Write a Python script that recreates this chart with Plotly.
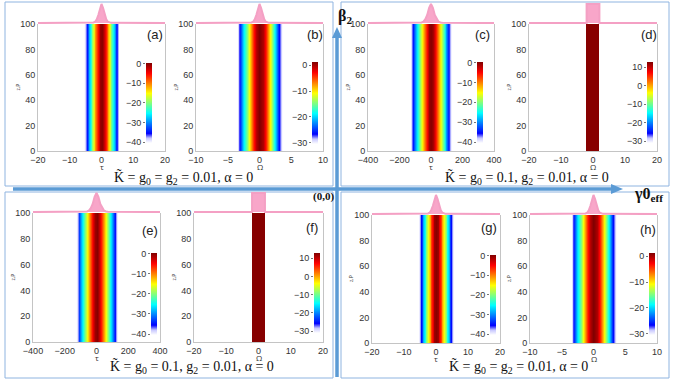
import plotly.graph_objects as go

W, H = 675, 380

# pulse intensity across the time window in dB, panels (a) and (g)
tau_short = [-7, -6, -5.5, -5, -4.5, -4, -3.5, -3, -2.5, -2, -1.5, -1, -0.5, 0,
             0.5, 1, 1.5, 2, 2.5, 3, 3.5, 4, 4.5, 5, 5.5, 6, 7]
db_time = [-55, -44.5, -41.7, -37.4, -33.1, -28.7, -24.4, -20.1, -15.9, -11.5, -7.6, -3.8, -0.9, 0,
           -0.9, -3.8, -7.6, -11.5, -15.9, -20.1, -24.4, -28.7, -33.1, -37.4, -41.7, -44.5, -55]
# same pulse on the wide window, panels (c) and (e)
tau_long = [-168, -144, -132, -120, -108, -96, -84, -72, -60, -48, -36, -24, -12, 0,
            12, 24, 36, 48, 60, 72, 84, 96, 108, 120, 132, 144, 168]
# spectrum in dB, panels (b) and (h)
omega_b = [-5, -4.5, -4, -3.5, -3, -2.5, -2, -1.5, -1, -0.5, 0, 0.5, 1, 1.5, 2, 2.5, 3, 3.5, 4, 4.5, 5]
db_spec = [-47, -41.5, -36.1, -30.7, -25.3, -19.8, -14.5, -9.2, -4.2, -0.3, 1.3,
           -0.3, -4.2, -9.2, -14.5, -19.8, -25.3, -30.7, -36.1, -41.5, -47]
# narrow spectral line, panels (d) and (f)
omega_d = [-4, 0, 4]
db_line = [None, 12.5, None]

# input pulse shown above each map (normalised)
prof_tau_short = [-20, -3, -2.5, -2, -1.5, -1, -0.5, 0, 0.5, 1, 1.5, 2, 2.5, 3, 20]
prof_time = [0, 0.01, 0.03, 0.07, 0.2, 0.42, 0.79, 1, 0.79, 0.42, 0.2, 0.07, 0.03, 0.01, 0]
prof_tau_long = [-400, -72, -60, -48, -36, -24, -12, 0, 12, 24, 36, 48, 60, 72, 400]
prof_omega_b = [-10, -1.5, -1.25, -1, -0.75, -0.5, -0.25, 0, 0.25, 0.5, 0.75, 1, 1.25, 1.5, 10]
prof_omega_d = [-20, -2, -2, 2, 2, 20]
prof_line = [0, 0, 1, 1, 0, 0]

z_ticks = [0, 20, 40, 60, 80, 100]
cb_ticks_40 = [0, -10, -20, -30, -40]
cb_ticks_30 = [0, -10, -20, -30]
cb_ticks_line = [10, 0, -10, -20, -30]

cap_same = "K\u0303 = g<sub>0</sub> = g<sub>2</sub> = 0.01, α = 0"
cap_diff = "K\u0303 = g<sub>0</sub> = 0.1, g<sub>2</sub> = 0.01, α = 0"

jet_white = [[0, 'rgb(255,255,255)'], [0.06, 'rgb(200,200,255)'], [0.12, 'rgb(0,0,255)'],
             [0.37, 'rgb(0,255,255)'], [0.62, 'rgb(255,255,0)'], [0.87, 'rgb(255,0,0)'],
             [1, 'rgb(128,0,0)']]

time_s = dict(xt='τ', xr=[-20, 20], tv=[-20, -10, 0, 10, 20], x=tau_short, z=db_time,
              px=prof_tau_short, py=prof_time, zr=(-40.5, 0.3), cbt=cb_ticks_40, sm='best')
time_l = dict(xt='τ', xr=[-400, 400], tv=[-400, -200, 0, 200, 400], x=tau_long, z=db_time,
              px=prof_tau_long, py=prof_time, zr=(-40.5, 0.3), cbt=cb_ticks_40, sm='best')
spec_b = dict(xt='Ω', xr=[-10, 10], tv=[-10, -5, 0, 5, 10], x=omega_b, z=db_spec,
              px=prof_omega_b, py=prof_time, zr=(-30.6, 1.3), cbt=cb_ticks_30, sm='best')
spec_d = dict(xt='Ω', xr=[-20, 20], tv=[-20, -10, 0, 10, 20], x=omega_d, z=db_line,
              px=prof_omega_d, py=prof_line, zr=(-31, 12.8), cbt=cb_ticks_line, sm=False)

panels = [
    dict(lab='(a)', box=(38, 24, 165, 151), cb=(146, 63, 143), lp=(155, 35), **time_s),
    dict(lab='(b)', box=(196, 24, 323, 151), cb=(312, 62, 144), lp=(315, 34), **spec_b),
    dict(lab='(c)', box=(368, 24, 494, 151), cb=(477, 62, 143), lp=(482, 34), **time_l),
    dict(lab='(d)', box=(529, 24, 657, 151), cb=(647, 62, 143), lp=(649, 35), **spec_d),
    dict(lab='(e)', box=(33, 213, 160, 342), cb=(151, 253, 335), lp=(150, 230), **time_l),
    dict(lab='(f)', box=(194, 213, 323, 342), cb=(314, 253, 333), lp=(312, 227), **spec_d),
    dict(lab='(g)', box=(372, 215, 500, 343), cb=(490, 255, 335), lp=(489, 227), **time_s),
    dict(lab='(h)', box=(530, 215, 657, 343), cb=(649, 253, 335), lp=(648, 229), **spec_b),
]


def X(px):
    return px / W


def Y(py):
    return 1 - py / H


def note(x, y, text, **kw):
    return dict(x=X(x), y=Y(y), xref='paper', yref='paper', text=text, showarrow=False,
                xanchor='center', yanchor='middle', **kw)


fig = go.Figure()
layout = {}
ann = []
tick_font = dict(family='Liberation Sans, Arial', size=9, color='#333')
line_col = '#c4c4c4'

for k, p in enumerate(panels):
    x0, y0, x1, y1 = p['box']
    nm, npf, ncb = 3 * k + 1, 3 * k + 2, 3 * k + 3
    s_m = '' if nm == 1 else str(nm)
    cbx, cby0, cby1 = p['cb']

    fig.add_trace(go.Heatmap(
        x=p['x'], y=[0, 100], z=[p['z'], p['z']], zmin=p['zr'][0], zmax=p['zr'][1],
        colorscale=jet_white, zsmooth=p['sm'], xaxis='x' + s_m, yaxis='y' + s_m,
        hoverinfo='skip',
        colorbar=dict(x=X(cbx), xanchor='left', xref='paper', y=Y(cby1), yanchor='bottom',
                      yref='paper', lenmode='pixels', len=cby1 - cby0, thickness=6,
                      xpad=0, ypad=0, outlinewidth=0, showticklabels=False, ticks='')))
    fig.add_trace(go.Scatter(
        x=p['px'], y=p['py'], mode='lines', fill='tozeroy', hoverinfo='skip',
        line=dict(color='#f4a0c4', width=2), fillcolor='#f8a6c9',
        xaxis='x%d' % npf, yaxis='y%d' % npf, showlegend=False))
    # empty trace so the colour-scale tick axis gets drawn
    fig.add_trace(go.Scatter(x=[], y=[], xaxis='x%d' % ncb, yaxis='y%d' % ncb,
                             showlegend=False, hoverinfo='skip'))

    layout['xaxis' + s_m] = dict(domain=[X(x0), X(x1)], range=p['xr'], tickvals=p['tv'],
                                 anchor='y' + s_m, showline=True, linecolor=line_col,
                                 linewidth=1, ticks='', showgrid=False, zeroline=False,
                                 tickfont=tick_font)
    layout['yaxis' + s_m] = dict(domain=[Y(y1), Y(y0)], range=[0, 100], tickvals=z_ticks,
                                 anchor='x' + s_m, showline=True, mirror=True,
                                 linecolor=line_col, linewidth=1, ticks='', showgrid=False,
                                 zeroline=False, tickfont=tick_font)
    layout['xaxis%d' % npf] = dict(domain=[X(x0), X(x1)], range=p['xr'], visible=False,
                                   anchor='y%d' % npf)
    layout['yaxis%d' % npf] = dict(domain=[Y(y0), Y(y0 - 21)], range=[-0.05, 1.05],
                                   visible=False, anchor='x%d' % npf)
    layout['xaxis%d' % ncb] = dict(domain=[X(cbx), X(cbx + 6)], range=[0, 1],
                                   showticklabels=False, showline=False, showgrid=False,
                                   zeroline=False, ticks='', anchor='y%d' % ncb)
    layout['yaxis%d' % ncb] = dict(domain=[Y(cby1), Y(cby0)], range=list(p['zr']),
                                   tickvals=p['cbt'], anchor='x%d' % ncb, ticks='outside',
                                   ticklen=2, tickcolor='#777', showline=False,
                                   showgrid=False, zeroline=False, tickfont=tick_font)

    ann.append(note((x0 + x1) / 2, y1 + 15.5, p['xt'], font=dict(size=8, color='#333')))
    ann.append(note(x0 - 21, (y0 + y1) / 2, 'z,P', textangle=-90,
                    font=dict(size=5, color='#333')))
    ann.append(note(p['lp'][0], p['lp'][1], p['lab'],
                    font=dict(family='Liberation Sans, Arial', size=13, color='#222')))

serif = 'Liberation Serif, Times New Roman, serif'
for txt, cx, cy in [(cap_same, 183, 178), (cap_diff, 527, 178),
                    (cap_diff, 192, 367), (cap_same, 518, 367)]:
    ann.append(note(cx, cy, txt, font=dict(family=serif, size=14, color='#111')))

ann.append(note(345, 16, '<b>β<sub>2</sub></b>', font=dict(family=serif, size=16, color='#111')))
ann.append(note(648, 194, '<b>γ0<sub>eff</sub></b>', font=dict(family=serif, size=16, color='#111')))
ann.append(note(323, 197, '<b>(0,0)</b>', font=dict(family=serif, size=11, color='#111')))

blue = '#5b9bd5'
box_col = '#8fb4e0'
shapes = []
for bx0, by0, bx1, by1 in [(5, 2, 333, 186), (341, 2, 669, 186),
                           (5, 192, 333, 378), (341, 192, 669, 378)]:
    shapes.append(dict(type='rect', xref='paper', yref='paper', x0=X(bx0), x1=X(bx1),
                       y0=Y(by0), y1=Y(by1), line=dict(color=box_col, width=1),
                       layer='below'))
shapes.append(dict(type='line', xref='paper', yref='paper', x0=X(13), x1=X(613),
                   y0=Y(189), y1=Y(189), line=dict(color=blue, width=3.5)))
shapes.append(dict(type='path', xref='paper', yref='paper', fillcolor=blue,
                   line=dict(width=0),
                   path='M %f,%f L %f,%f L %f,%f Z' % (X(611), Y(184), X(623), Y(189),
                                                       X(611), Y(194))))
shapes.append(dict(type='line', xref='paper', yref='paper', x0=X(337), x1=X(337),
                   y0=Y(377), y1=Y(37), line=dict(color=blue, width=3.5)))
shapes.append(dict(type='path', xref='paper', yref='paper', fillcolor=blue,
                   line=dict(width=0),
                   path='M %f,%f L %f,%f L %f,%f Z' % (X(332), Y(38), X(337), Y(27),
                                                       X(342), Y(38))))

fig.update_layout(width=W, height=H, margin=dict(l=0, r=0, t=0, b=0, autoexpand=False),
                  paper_bgcolor='white', plot_bgcolor='white', showlegend=False,
                  annotations=ann, shapes=shapes, **layout)

fig.write_html("out.html", config={'displayModeBar': False},
               post_script="document.body.style.margin='0';document.body.style.overflow='hidden';")
